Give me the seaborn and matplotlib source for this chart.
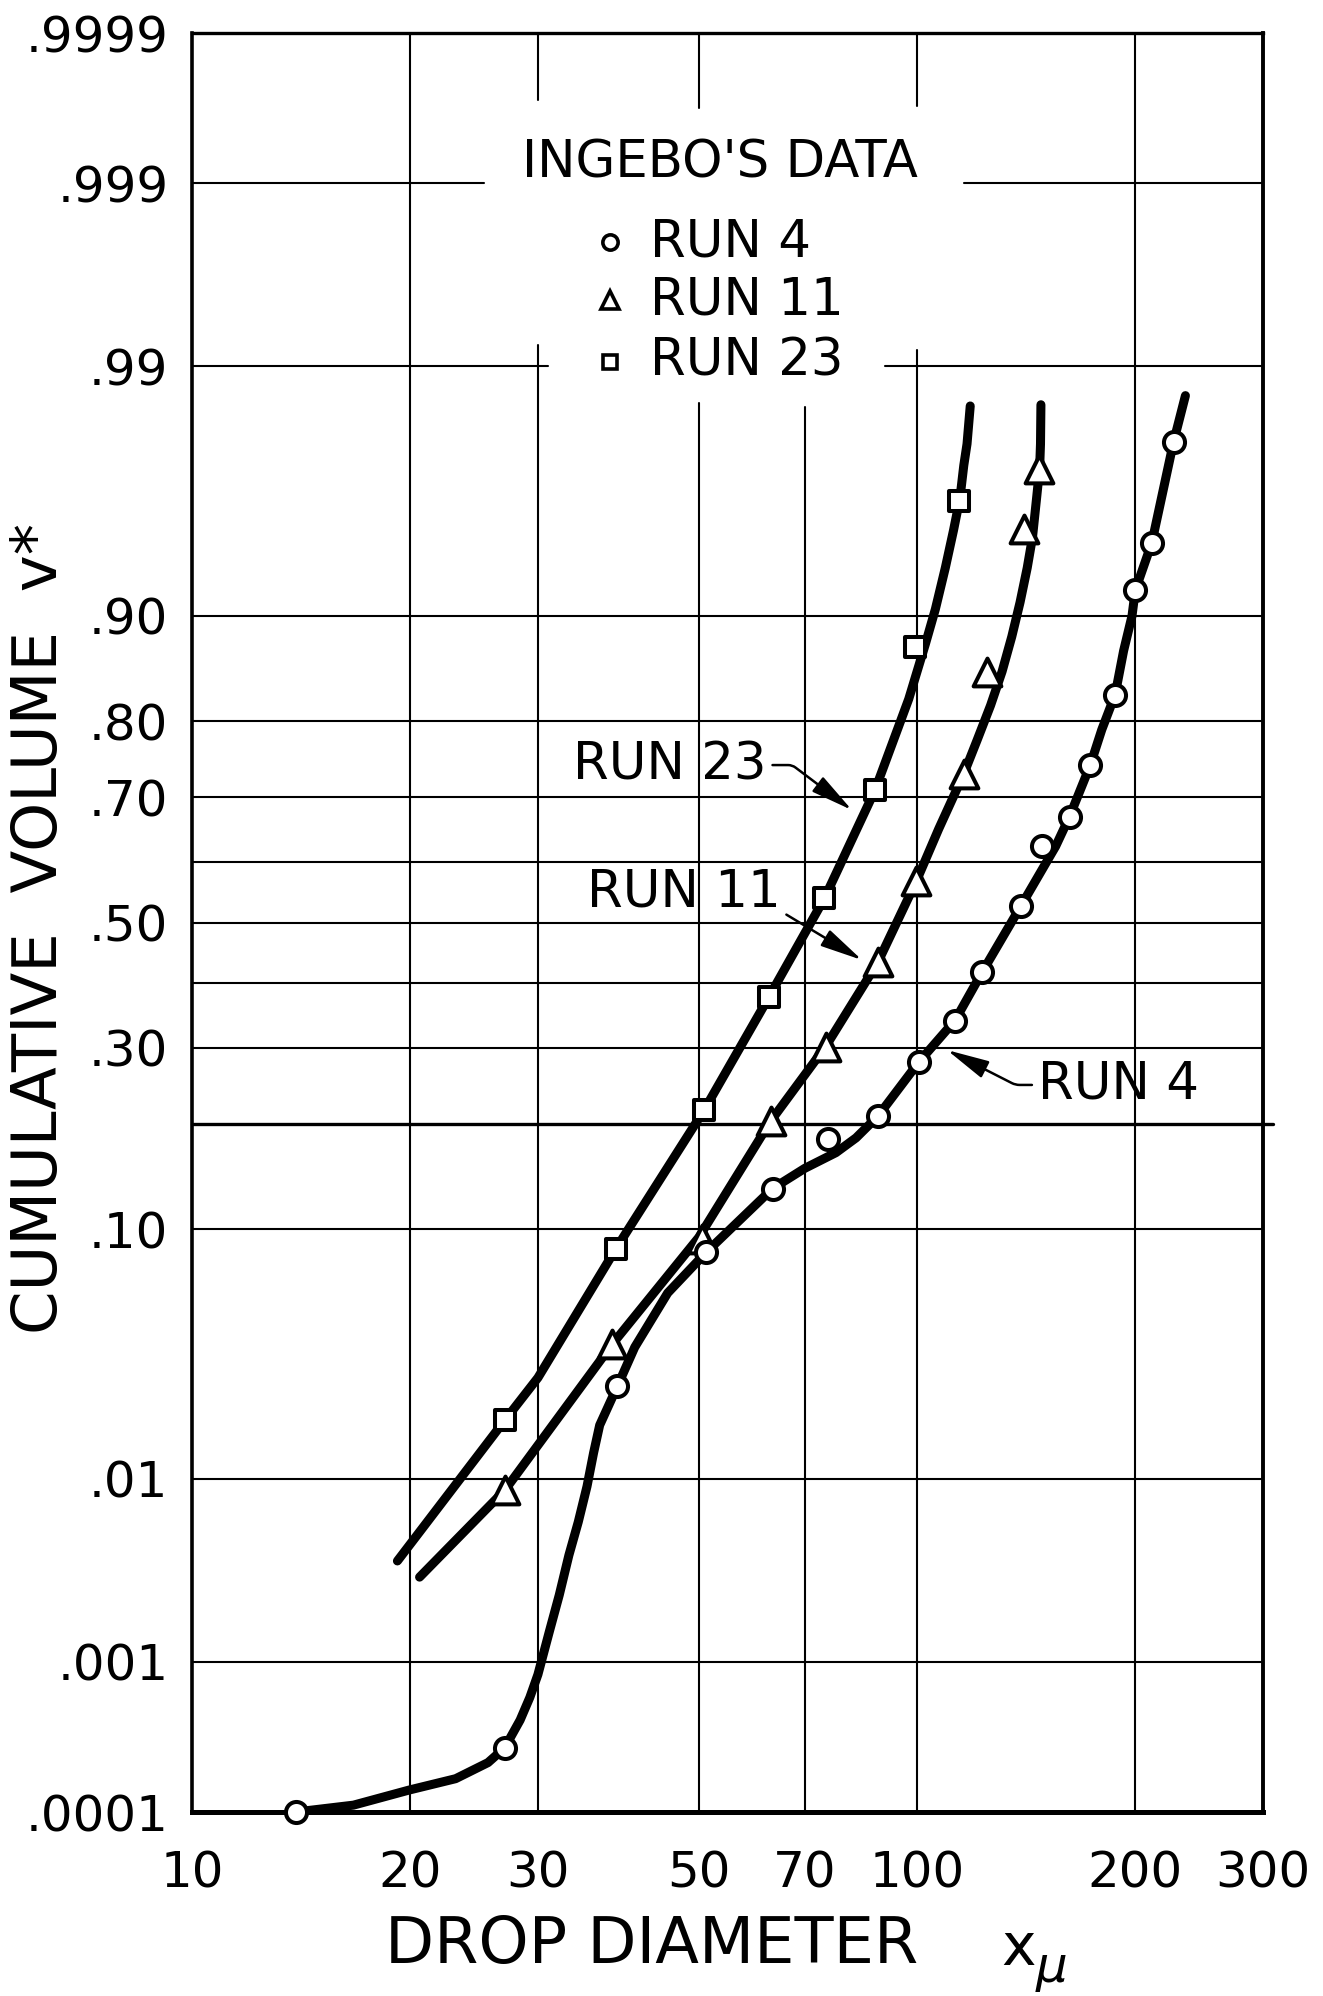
import math
import numpy as np
import pandas as pd
import matplotlib
matplotlib.use("Agg")
import matplotlib.pyplot as plt
from matplotlib.ticker import NullLocator
import seaborn as sns

# ---------------- data ----------------
# RUN 23 (squares)
r23_x = [27.0, 38.4, 50.9, 62.5, 74.5, 87.5, 99.5, 114.1]
r23_p = [0.0187, 0.086, 0.217, 0.378, 0.54, 0.71, 0.875, 0.961]
c23_x = [19.2, 27.0, 30.0, 38.4, 50.9, 62.5, 74.5, 87.5, 97.4, 102.7, 106.0, 109.4, 112.3, 114.6, 116.0, 117.2, 118.4]
c23_p = [0.0038, 0.0187, 0.0285, 0.086, 0.217, 0.378, 0.54, 0.71, 0.825, 0.878, 0.905, 0.931, 0.9496, 0.962, 0.972,
         0.9773, 0.9846]

# RUN 11 (triangles)
r11_x = [27.0, 38.0, 50.5, 62.8, 74.8, 88.3, 99.8, 115.9, 124.9, 140.3, 147.2]
r11_p = [0.0088, 0.039, 0.093, 0.203, 0.302, 0.434, 0.569, 0.732, 0.853, 0.950, 0.971]
c11_x = [20.6, 27.0, 38.0, 50.0, 62.8, 74.8, 88.3, 99.8, 107.1, 115.9, 121.0, 126.3, 131.0, 135.1, 138.7, 141.9,
         144.3, 146.3, 147.6, 148.0, 148.2]
c11_p = [0.0031, 0.0088, 0.039, 0.094, 0.203, 0.302, 0.434, 0.569, 0.652, 0.732, 0.777, 0.818, 0.853, 0.884, 0.9097,
         0.931, 0.9465, 0.9629, 0.9713, 0.9773, 0.9848]

# RUN 4 (circles)
r4_x = [13.9, 27.0, 38.6, 51.2, 63.2, 75.4, 88.3, 100.6, 112.8, 123.0, 139.0, 148.6, 162.3, 173.4, 187.6, 200.0,
        210.8, 225.8]
r4_p = [0.0001, 0.00028, 0.0262, 0.084, 0.133, 0.183, 0.209, 0.280, 0.341, 0.418, 0.527, 0.625, 0.671, 0.745,
        0.8297, 0.9176, 0.9439, 0.9777]
c4_x = [13.9, 16.7, 19.9, 23.1, 25.6, 27.0, 28.35, 29.24, 30.0, 31.1, 32.1, 33.1, 34.1, 35.06, 35.8, 36.5, 38.6,
        40.8, 45.3, 51.2, 63.2, 70.0, 77.3, 82.4, 88.3, 100.6, 112.8, 123.0, 139.0, 155.3, 162.3, 173.4, 179.8, 187.6,
        192.7, 197.9, 200.0, 210.8, 225.8, 234.5]
c4_p = [0.0001, 0.000112, 0.000143, 0.000172, 0.000222, 0.00028, 0.000427, 0.000598, 0.000833, 0.00151, 0.00246,
        0.00408, 0.0061, 0.0092, 0.0133, 0.0178, 0.0262, 0.0379, 0.0607, 0.084, 0.133, 0.152, 0.168, 0.184, 0.209,
        0.280, 0.341, 0.418, 0.527, 0.625, 0.671, 0.745, 0.790, 0.8297, 0.872, 0.900, 0.9176, 0.9439, 0.9777, 0.9862]

# axis ticks
x_ticks = [10, 20, 30, 50, 70, 100, 200, 300]
x_labels = ["10", "20", "30", "50", "70", "100", "200", "300"]
y_ticks = [0.0001, 0.001, 0.01, 0.10, 0.30, 0.50, 0.70, 0.80, 0.90, 0.99, 0.999, 0.9999]
y_labels = [".0001", ".001", ".01", ".10", ".30", ".50", ".70", ".80", ".90", ".99", ".999", ".9999"]

# grid lines (full ones) and broken ones: (value, [(start, end), ...])
h_grid_full = [0.001, 0.01, 0.10, 0.30, 0.40, 0.50, 0.60, 0.70, 0.80, 0.90]
h_grid_broken = [(0.999, [(10, 25.3), (116, 300)]), (0.99, [(10, 31.0), (90.3, 300)])]
v_grid_full = [20, 200]
v_grid_broken = [(30, [(0.0001, 0.99212), (0.99971, 0.9999)]),
                 (50, [(0.0001, 0.98507), (0.99967, 0.9999)]),
                 (70, [(0.0001, 0.98442)]),
                 (100, [(0.0001, 0.99165), (0.99968, 0.9999)])]
heavy_line_p = 0.20
heavy_line_x = (10, 309.6)

legend_title = "INGEBO'S DATA"
legend_names = ["RUN 4", "RUN 11", "RUN 23"]


# ---------------- probability (probit) scale ----------------
_A = [-3.969683028665376e+01, 2.209460984245205e+02, -2.759285104469687e+02,
      1.383577518672690e+02, -3.066479806614716e+01, 2.506628277459239e+00]
_B = [-5.447609879822406e+01, 1.615858368580409e+02, -1.556989798598866e+02,
      6.680131188771972e+01, -1.328068155288572e+01]
_C = [-7.784894002430293e-03, -3.223964580411365e-01, -2.400758277161838e+00,
      -2.549732539343734e+00, 4.374664141464968e+00, 2.938163982698783e+00]
_D = [7.784695709041462e-03, 3.224671290700398e-01, 2.445134137142996e+00,
      3.754408661907416e+00]


def probit(p):
    p = np.asarray(p, dtype=float)
    shape = p.shape
    p = np.clip(np.atleast_1d(p).ravel(), 1e-15, 1 - 1e-15)
    z = np.empty_like(p)
    plow = 0.02425
    lo = p < plow
    hi = p > 1 - plow
    mid = ~(lo | hi)
    q = np.sqrt(-2 * np.log(p[lo]))
    z[lo] = (((((_C[0]*q+_C[1])*q+_C[2])*q+_C[3])*q+_C[4])*q+_C[5]) / ((((_D[0]*q+_D[1])*q+_D[2])*q+_D[3])*q+1)
    q = np.sqrt(-2 * np.log(1 - p[hi]))
    z[hi] = -(((((_C[0]*q+_C[1])*q+_C[2])*q+_C[3])*q+_C[4])*q+_C[5]) / ((((_D[0]*q+_D[1])*q+_D[2])*q+_D[3])*q+1)
    q = p[mid] - 0.5
    r = q * q
    z[mid] = (((((_A[0]*r+_A[1])*r+_A[2])*r+_A[3])*r+_A[4])*r+_A[5])*q / (((((_B[0]*r+_B[1])*r+_B[2])*r+_B[3])*r+_B[4])*r+1)
    return z.reshape(shape)


_erfc = np.vectorize(math.erfc)


def norm_cdf(z):
    z = np.asarray(z, dtype=float)
    return 0.5 * _erfc(-z / math.sqrt(2.0))


# ---------------- figure ----------------
sns.set_style("white")
plt.rcParams["font.family"] = ["DejaVu Sans"]

fig = plt.figure(figsize=(13.23, 19.96), dpi=100)
ax = fig.add_axes([0.14512, 0.09218, 0.80952, 0.89128])
ax.set_xscale("log")
ax.set_yscale("function", functions=(probit, norm_cdf))
ax.set_xlim(10, 300)
ax.set_ylim(0.0001, 0.9999)

GRID_LW = 1.5
for p in h_grid_full:
    ax.plot([10, 300], [p, p], color="black", lw=GRID_LW, zorder=1)
for p, segs in h_grid_broken:
    for a, b in segs:
        ax.plot([a, b], [p, p], color="black", lw=GRID_LW, zorder=1)
for x in v_grid_full:
    ax.plot([x, x], [0.0001, 0.9999], color="black", lw=GRID_LW, zorder=1)
for x, segs in v_grid_broken:
    for a, b in segs:
        ax.plot([x, x], [a, b], color="black", lw=GRID_LW, zorder=1)
ax.plot(list(heavy_line_x), [heavy_line_p, heavy_line_p], color="black", lw=2.4, zorder=1, clip_on=False)

# curves
for cx, cp in [(c23_x, c23_p), (c11_x, c11_p), (c4_x, c4_p)]:
    sns.lineplot(x=cx, y=cp, sort=False, estimator=None, color="black", lw=6.5,
                 ax=ax, zorder=3, clip_on=False, solid_capstyle="round", solid_joinstyle="round")

# markers
sns.scatterplot(x=r23_x, y=r23_p, marker="s", s=210, facecolor="white", edgecolor="black",
                linewidth=2.9, ax=ax, zorder=5, clip_on=False)
sns.scatterplot(x=r11_x, y=r11_p, marker="^", s=400, facecolor="white", edgecolor="black",
                linewidth=2.9, ax=ax, zorder=5, clip_on=False)
sns.scatterplot(x=r4_x, y=r4_p, marker="o", s=230, facecolor="white", edgecolor="black",
                linewidth=2.9, ax=ax, zorder=6, clip_on=False)

# axes styling
ax.set_xticks(x_ticks, labels=x_labels)
ax.set_yticks(y_ticks, labels=y_labels)
ax.xaxis.set_minor_locator(NullLocator())
ax.yaxis.set_minor_locator(NullLocator())
ax.tick_params(axis="both", length=0, labelsize=36, colors="black")
ax.tick_params(axis="x", pad=27)
ax.tick_params(axis="y", pad=17)
ax.set_xlabel("")
ax.set_ylabel("")
ax.grid(False)
for side, lw in [("left", 2.6), ("top", 2.4), ("right", 2.8), ("bottom", 3.6)]:
    ax.spines[side].set_visible(True)
    ax.spines[side].set_linewidth(lw)
    ax.spines[side].set_color("black")
    ax.spines[side].set_zorder(4)

# legend block
ax.text(0.493, 0.9267, legend_title, transform=ax.transAxes, ha="center", va="center",
        fontsize=37, color="black")
leg_y = [0.8825, 0.8499, 0.8151]
leg_m = [("o", 11), ("^", 13), ("s", 10)]
for yy, name, (mk, ms) in zip(leg_y, legend_names, leg_m):
    ax.plot([0.390], [yy], marker=mk, ms=ms, mfc="white", mec="black", mew=2.6,
            transform=ax.transAxes, clip_on=False, zorder=6)
    ax.text(0.4276, yy, name, transform=ax.transAxes, ha="left", va="center",
            fontsize=37, color="black")

# annotations with leader arrows
arrow_kw = dict(arrowstyle="-|>,head_length=1.3,head_width=0.28", color="black", lw=1.8,
                mutation_scale=20, shrinkA=2, shrinkB=0)
ax.annotate("RUN 23", xy=(0.6162, 0.5632), xycoords="axes fraction",
            xytext=(0.3557, 0.5885), textcoords="axes fraction", ha="left", va="center",
            fontsize=37, color="black", zorder=7,
            arrowprops=dict(connectionstyle="angle,angleA=0,angleB=-37,rad=4",
                            relpos=(1.0, 0.5), **arrow_kw))
ax.annotate("RUN 11", xy=(0.6256, 0.4789), xycoords="axes fraction",
            xytext=(0.3688, 0.5171), textcoords="axes fraction", ha="left", va="center",
            fontsize=37, color="black", zorder=7,
            arrowprops=dict(connectionstyle="angle,angleA=0,angleB=-31,rad=4",
                            relpos=(1.0, 0.5), **arrow_kw))
ax.annotate("RUN 4", xy=(0.705, 0.4283), xycoords="axes fraction",
            xytext=(0.7899, 0.4087), textcoords="axes fraction", ha="left", va="center",
            fontsize=37, color="black", zorder=7,
            arrowprops=dict(connectionstyle="angle,angleA=0,angleB=-27,rad=4",
                            relpos=(0.0, 0.5), **arrow_kw))

# axis titles
fig.text(0.2910, 0.0165, "DROP DIAMETER", ha="left", va="baseline", fontsize=46, color="black")
fig.text(0.7570, 0.0155, "x", ha="left", va="baseline", fontsize=42, color="black")
fig.text(0.7830, 0.0070, "\u03bc", ha="left", va="baseline", fontsize=36, color="black", style="italic")
fig.text(0.0299, 0.3317, "CUMULATIVE  VOLUME  v*", rotation=90, ha="center", va="bottom",
         fontsize=45, color="black")

fig.savefig("out.png", dpi=100, facecolor="white")
